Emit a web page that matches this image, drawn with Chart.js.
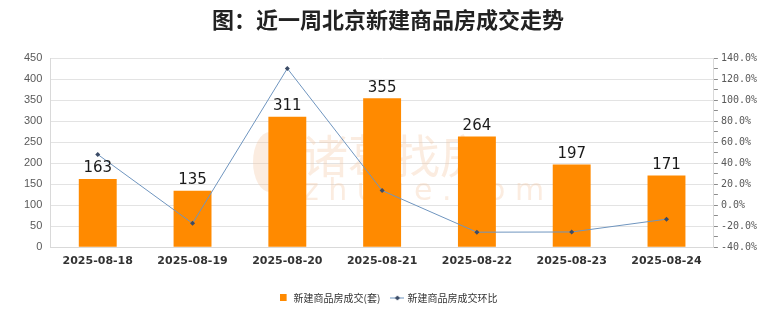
<!DOCTYPE html>
<html>
<head>
<meta charset="utf-8">
<script src="https://cdn.jsdelivr.net/npm/chart.js@4/dist/chart.umd.min.js"></script>
<style>
  html, body { margin: 0; padding: 0; background: #fff; }
  #wrap { width: 780px; height: 328px; }
</style>
</head>
<body>
<div id="wrap"><canvas id="chart" width="780" height="328"></canvas></div>
<script>
// data
const dates = ['2025-08-18', '2025-08-19', '2025-08-20', '2025-08-21', '2025-08-22', '2025-08-23', '2025-08-24'];
const deals = [163, 135, 311, 355, 264, 197, 171];
const changePct = [48.5, -17.2, 130.4, 14.1, -25.6, -25.4, -13.2];
const leftTicks = [0, 50, 100, 150, 200, 250, 300, 350, 400, 450];
const rightTicks = [-40, -20, 0, 20, 40, 60, 80, 100, 120, 140];

const cjk = '"Noto Sans CJK SC", "Liberation Sans", sans-serif';

// small marker for the legend: line with a diamond
function lineMarker() {
    const c = document.createElement('canvas');
    c.width = 14; c.height = 8;
    const g = c.getContext('2d');
    g.strokeStyle = '#6f95bf';
    g.lineWidth = 1;
    g.beginPath(); g.moveTo(0, 4); g.lineTo(14, 4); g.stroke();
    g.fillStyle = '#3b4b66';
    g.beginPath(); g.moveTo(7, 1.5); g.lineTo(9.5, 4); g.lineTo(7, 6.5); g.lineTo(4.5, 4); g.closePath(); g.fill();
    return c;
}
function barMarker() {
    const c = document.createElement('canvas');
    c.width = 8; c.height = 8;
    const g = c.getContext('2d');
    g.fillStyle = '#ff8a00';
    g.fillRect(0, 0, 7, 7);
    return c;
}

const watermark = {
    id: 'watermark',
    beforeDatasetsDraw(chart) {
        const ctx = chart.ctx;
        ctx.save();
        ctx.fillStyle = 'rgba(244, 195, 160, 0.32)';
        ctx.font = '46px ' + cjk;
        ctx.textBaseline = 'middle';
        ctx.fillText('诸葛找房', 302, 156);
        ctx.font = '30px "DejaVu Sans", sans-serif';
        ctx.fillText('z h u g e . c o m', 303, 192);
        ctx.beginPath();
        ctx.ellipse(270, 162, 17, 30, 0, 0, Math.PI * 2);
        ctx.fill();
        ctx.restore();
    }
};

const barLabels = {
    id: 'barLabels',
    afterDatasetsDraw(chart) {
        const ctx = chart.ctx;
        const meta = chart.getDatasetMeta(0);
        ctx.save();
        ctx.fillStyle = '#1a1a1a';
        ctx.font = '15px "DejaVu Sans", sans-serif';
        ctx.textAlign = 'center';
        ctx.textBaseline = 'bottom';
        meta.data.forEach((bar, i) => {
            ctx.fillText(String(deals[i]), bar.x, bar.y - 3);
        });
        ctx.restore();
    }
};

new Chart(document.getElementById('chart').getContext('2d'), {
    type: 'bar',
    data: {
        labels: dates,
        datasets: [
            {
                label: '新建商品房成交(套)',
                data: deals,
                backgroundColor: '#ff8a00',
                categoryPercentage: 1,
                barPercentage: 0.4,
                yAxisID: 'y',
                order: 2
            },
            {
                type: 'line',
                label: '新建商品房成交环比',
                data: changePct,
                borderColor: '#6f95bf',
                borderWidth: 1,
                pointStyle: 'rectRot',
                pointRadius: 2.5,
                pointBackgroundColor: '#3b4b66',
                pointBorderColor: '#3b4b66',
                pointBorderWidth: 0,
                tension: 0,
                yAxisID: 'y1',
                order: 1
            }
        ]
    },
    options: {
        responsive: false,
        animation: false,
        layout: { padding: { left: 16, right: 20, top: 0, bottom: 15 } },
        plugins: {
            title: {
                display: true,
                text: '图：近一周北京新建商品房成交走势',
                color: '#222',
                font: { family: cjk, size: 22, weight: 'bold' },
                padding: { top: 6, bottom: 26 }
            },
            legend: {
                position: 'bottom',
                labels: {
                    usePointStyle: true,
                    color: '#333',
                    font: { family: cjk, size: 10 },
                    padding: 12,
                    generateLabels(chart) {
                        return chart.data.datasets.map((ds, i) => ({
                            text: ds.label,
                            datasetIndex: i,
                            pointStyle: i === 0 ? barMarker() : lineMarker(),
                            fontColor: '#333',
                            lineWidth: 0,
                            hidden: false
                        }));
                    }
                }
            },
            tooltip: { enabled: false }
        },
        scales: {
            x: {
                grid: { display: false },
                border: { color: '#d9d9d9' },
                afterFit(scale) { scale.height += 14.5; },
                ticks: {
                    color: '#333',
                    font: { family: '"DejaVu Sans", sans-serif', size: 11, weight: 'bold' },
                    maxRotation: 0,
                    padding: -1
                }
            },
            y: {
                position: 'left',
                min: 0,
                max: 450,
                afterBuildTicks(axis) { axis.ticks = leftTicks.map(v => ({ value: v })); },
                grid: { color: '#e3e3e3', drawTicks: false },
                border: { color: '#d9d9d9' },
                ticks: {
                    color: '#595959',
                    font: { family: '"Liberation Sans", sans-serif', size: 11 },
                    padding: 8
                }
            },
            y1: {
                position: 'right',
                min: -40,
                max: 140,
                afterBuildTicks(axis) {
                    const t = [];
                    for (let i = 0; i < rightTicks.length; i++) {
                        t.push({ value: rightTicks[i] });
                        if (i < rightTicks.length - 1) t.push({ value: rightTicks[i] + 10 });
                    }
                    axis.ticks = t;
                },
                grid: { drawOnChartArea: false, color: '#8c8c8c', tickLength: 4 },
                border: { color: '#d9d9d9' },
                ticks: {
                    autoSkip: false,
                    color: '#595959',
                    font: { family: '"DejaVu Sans Mono", monospace', size: 10 },
                    padding: 3,
                    callback: v => (rightTicks.includes(v) ? v.toFixed(1) + '%' : '')
                }
            }
        }
    },
    plugins: [watermark, barLabels]
});
</script>
</body>
</html>
